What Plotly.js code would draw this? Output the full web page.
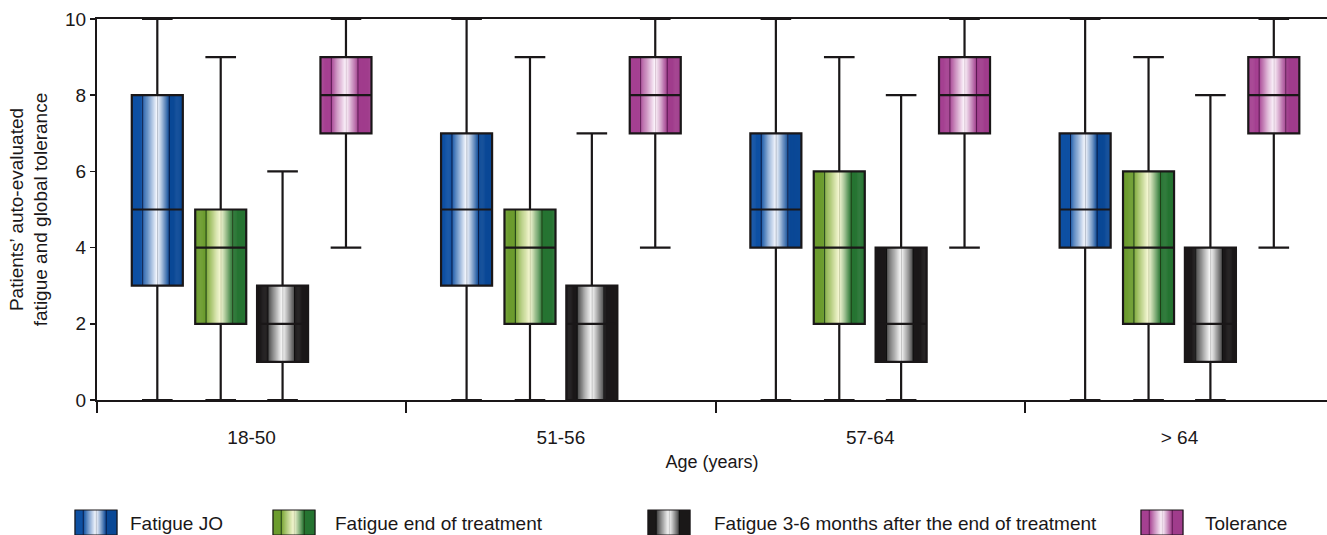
<!DOCTYPE html>
<html>
<head>
<meta charset="utf-8">
<script src="https://cdn.plot.ly/plotly-3.0.1.min.js"></script>
<style>
  html, body { margin: 0; padding: 0; background: #fff; }
  #chart { width: 1327px; height: 535px; }
</style>
</head>
<body>
<div id="chart"></div>
<script>
// Age groups on the x axis
const categories = ['18-50', '51-56', '57-64', '> 64'];
const seriesNames = [
  'Fatigue JO',
  'Fatigue end of treatment',
  'Fatigue 3-6 months after the end of treatment',
  'Tolerance'
];

// Box statistics per series: whisker ends, quartiles and median (0-10 scale)
const joLow = [0, 0, 0, 0];
const joQ1 = [3, 3, 4, 4];
const joMedian = [5, 5, 5, 5];
const joQ3 = [8, 7, 7, 7];
const joHigh = [10, 10, 10, 10];

const endLow = [0, 0, 0, 0];
const endQ1 = [2, 2, 2, 2];
const endMedian = [4, 4, 4, 4];
const endQ3 = [5, 5, 6, 6];
const endHigh = [9, 9, 9, 9];

const lateLow = [0, 0, 0, 0];
const lateQ1 = [1, 0, 1, 1];
const lateMedian = [2, 2, 2, 2];
const lateQ3 = [3, 3, 4, 4];
const lateHigh = [6, 7, 8, 8];

const tolLow = [4, 4, 4, 4];
const tolQ1 = [7, 7, 7, 7];
const tolMedian = [8, 8, 8, 8];
const tolQ3 = [9, 9, 9, 9];
const tolHigh = [10, 10, 10, 10];

const yTicks = [0, 2, 4, 6, 8, 10];

// ---- styling -------------------------------------------------------------
const W = 1327, H = 535;
const FONT = 'Liberation Sans, Arial, sans-serif';
const INK = '#1a1718';
const BOX_W = 0.165;                       // box width in category units
const OFFSETS = [-0.305, -0.1, 0.1, 0.305]; // box centre offsets in a group
const STRIPS = 48;                          // vertical strips per box (shading)

// Cylinder shading: solid edge bands, dark rules, light core
const shading = [
  { left: [14, 80, 163], right: [10, 72, 150], inL: [14, 80, 163], inR: [10, 72, 150],
    rule: [8, 28, 72], core: [248, 250, 255], coreRule: [185, 192, 205] },
  { left: [108, 156, 46], right: [38, 116, 50], inL: [120, 165, 50], inR: [38, 116, 50],
    rule: [30, 62, 22], core: [246, 248, 212], coreRule: [205, 210, 170] },
  { left: [27, 24, 25], right: [27, 24, 25], inL: [62, 62, 62], inR: [70, 70, 70],
    rule: [15, 15, 15], core: [250, 250, 250], coreRule: [195, 195, 195] },
  { left: [165, 64, 145], right: [160, 60, 140], inL: [165, 64, 145], inR: [160, 60, 140],
    rule: [92, 25, 82], core: [253, 246, 252], coreRule: [220, 200, 215] }
];
const BAND_L = 0.21, CORE = 0.5, BAND_R = 0.74;

function mix(a, b, f) {
  return a.map((v, i) => Math.round(v + (b[i] - v) * f));
}
function rgb(c) { return 'rgb(' + c.join(',') + ')'; }

function stripColors(p, n) {
  const out = [];
  for (let k = 0; k < n; k++) {
    const t = (k + 0.5) / n;
    let c;
    if (t < BAND_L) c = p.left;
    else if (t < CORE) c = mix(p.inL, p.core, Math.pow((t - BAND_L) / (CORE - BAND_L), 0.9));
    else if (t < BAND_R) c = mix(p.core, p.inR, Math.pow((t - CORE) / (BAND_R - CORE), 1.1));
    else c = p.right;
    out.push(c);
  }
  const at = f => Math.min(n - 1, Math.max(0, Math.floor(f * n)));
  out[at(BAND_L)] = p.rule;
  out[at(BAND_R)] = p.rule;
  out[at(CORE)] = p.coreRule;
  return out.map(rgb);
}

const stats = [
  { low: joLow, q1: joQ1, med: joMedian, q3: joQ3, high: joHigh },
  { low: endLow, q1: endQ1, med: endMedian, q3: endQ3, high: endHigh },
  { low: lateLow, q1: lateQ1, med: lateMedian, q3: lateQ3, high: lateHigh },
  { low: tolLow, q1: tolQ1, med: tolMedian, q3: tolQ3, high: tolHigh }
];

const traces = [];

// Shaded box bodies, one bar per strip, spanning Q1..Q3
stats.forEach((s, si) => {
  const cols = stripColors(shading[si], STRIPS);
  const x = [], y = [], base = [], width = [], color = [];
  categories.forEach((_, ci) => {
    for (let k = 0; k < STRIPS; k++) {
      const t = (k + 0.5) / STRIPS;
      x.push(ci + OFFSETS[si] + (t - 0.5) * BOX_W);
      base.push(s.q1[ci]);
      y.push(s.q3[ci] - s.q1[ci]);
      width.push(BOX_W / STRIPS * 1.5);
      color.push(cols[k]);
    }
  });
  traces.push({
    type: 'bar', x, y, base, width,
    marker: { color, line: { width: 0 } },
    xaxis: 'x', yaxis: 'y', showlegend: false, hoverinfo: 'skip'
  });
});

// Outlines, medians and whiskers
stats.forEach((s, si) => {
  traces.push({
    type: 'box', name: seriesNames[si],
    x: categories.map((_, ci) => ci + OFFSETS[si]),
    q1: s.q1, median: s.med, q3: s.q3,
    lowerfence: s.low, upperfence: s.high,
    width: BOX_W, whiskerwidth: 0.6,
    boxpoints: false,
    fillcolor: 'rgba(0,0,0,0)',
    line: { color: INK, width: 2.2 },
    xaxis: 'x', yaxis: 'y', showlegend: false, hoverinfo: 'skip'
  });
});

// Empty trace that carries the category-label axis
traces.push({
  type: 'scatter', mode: 'markers',
  x: categories.map((_, i) => i), y: categories.map(() => null),
  xaxis: 'x2', yaxis: 'y', showlegend: false, hoverinfo: 'skip'
});

// Legend swatches, drawn in a pixel-space overlay
const LEG_SW = 42, LEG_TOP = 510, LEG_H = 25;
const legSwatchX = [96, 294, 669, 1162];
const legTextX = [128, 333, 712, 1203];
shading.forEach((p, si) => {
  const n = LEG_SW;
  const cols = stripColors(p, n);
  const x = [], y = [], base = [], width = [];
  for (let k = 0; k < n; k++) {
    x.push(legSwatchX[si] - LEG_SW / 2 + k + 0.5);
    y.push(LEG_H); base.push(LEG_TOP); width.push(1.5);
  }
  traces.push({
    type: 'bar', x, y, base, width,
    marker: { color: cols, line: { width: 0 } },
    xaxis: 'x3', yaxis: 'y3', showlegend: false, hoverinfo: 'skip'
  });
});
traces.push({
  type: 'bar', x: legSwatchX, y: legSwatchX.map(() => LEG_H), base: legSwatchX.map(() => LEG_TOP),
  width: legSwatchX.map(() => LEG_SW),
  marker: { color: 'rgba(0,0,0,0)', line: { color: INK, width: 1.2 } },
  xaxis: 'x3', yaxis: 'y3', showlegend: false, hoverinfo: 'skip'
});

const xRange = [-0.5, 3.477];

const layout = {
  width: W, height: H,
  margin: { l: 0, r: 0, t: 0, b: 0 },
  paper_bgcolor: '#ffffff',
  plot_bgcolor: 'rgba(0,0,0,0)',
  font: { family: FONT, size: 19, color: INK },
  barmode: 'overlay',
  boxmode: 'overlay',
  showlegend: false,
  xaxis: {
    domain: [97 / W, 1],
    range: xRange,
    showline: true, linecolor: INK, linewidth: 2, mirror: true,
    tickmode: 'array', tickvals: [-0.5, 0.5, 1.5, 2.5],
    ticks: 'outside', ticklen: 11, tickwidth: 2, tickcolor: INK,
    showticklabels: false, showgrid: false, zeroline: false, fixedrange: true
  },
  xaxis2: {
    overlaying: 'x', anchor: 'y', side: 'bottom',
    range: xRange,
    tickmode: 'array', tickvals: categories.map((_, i) => i), ticktext: categories,
    ticks: '', ticklabelstandoff: 24,
    tickfont: { size: 19 },
    showline: false, showgrid: false, zeroline: false, fixedrange: true,
    title: { text: 'Age (years)', font: { size: 18 }, standoff: 8 }
  },
  yaxis: {
    domain: [135 / H, 516 / H],
    range: [0, 10],
    tickmode: 'array', tickvals: yTicks,
    ticks: 'outside', ticklen: 5, tickwidth: 1.5, tickcolor: INK,
    tickfont: { size: 19 },
    showline: true, linecolor: INK, linewidth: 2,
    showgrid: false, zeroline: false, fixedrange: true,
    title: {
      text: 'Patients\u2019 auto-evaluated<br>fatigue and global tolerance',
      font: { size: 19 }, standoff: 12
    }
  },
  xaxis3: {
    domain: [0, 1], range: [0, W], anchor: 'y3',
    visible: false, fixedrange: true
  },
  yaxis3: {
    domain: [0, 1], range: [H, 0], anchor: 'x3',
    visible: false, fixedrange: true
  },
  annotations: seriesNames.map((name, i) => ({
    text: name, xref: 'paper', yref: 'paper',
    x: legTextX[i] / W, y: (H - 523) / H,
    xanchor: 'left', yanchor: 'middle', showarrow: false,
    font: { size: 19, color: INK, family: FONT }
  }))
};

Plotly.newPlot('chart', traces, layout, { staticPlot: true, displayModeBar: false });
</script>
</body>
</html>
